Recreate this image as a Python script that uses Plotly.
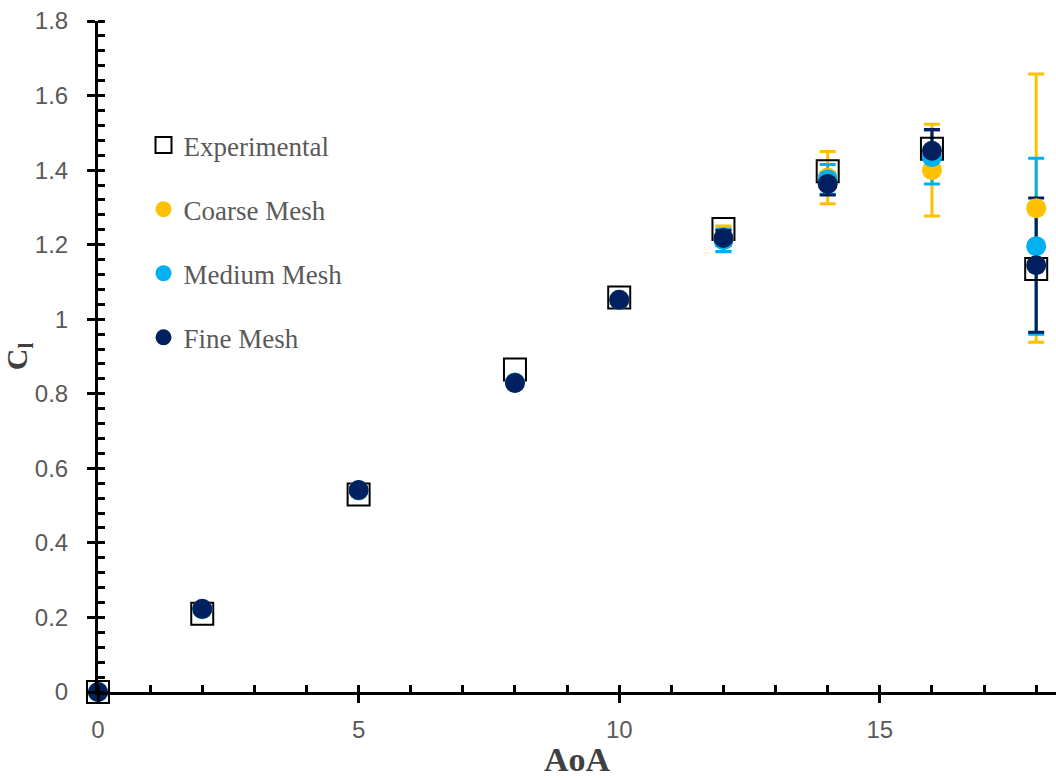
import plotly.graph_objects as go

# Lift coefficient vs angle of attack: experiment and three CFD mesh levels
aoa = [0, 2, 5, 8, 10, 12, 14, 16, 18]
cl_experimental = [0, 0.21, 0.53, 0.865, 1.058, 1.242, 1.397, 1.457, 1.135]
cl_coarse = [0, 0.222, 0.541, 0.83, 1.052, 1.215, 1.38, 1.40, 1.298]
cl_medium = [0, 0.222, 0.541, 0.83, 1.052, 1.212, 1.375, 1.435, 1.196]
cl_fine = [0, 0.223, 0.542, 0.829, 1.052, 1.218, 1.363, 1.452, 1.145]

# Error-bar half-widths for each mesh
err_coarse = [0, 0, 0, 0, 0, 0.035, 0.07, 0.123, 0.36]
err_medium = [0, 0, 0, 0, 0, 0.03, 0.04, 0.072, 0.236]
err_fine = [0, 0, 0, 0, 0, 0.02, 0.03, 0.057, 0.18]

x_ticks = [0, 5, 10, 15]
y_ticks = [0, 0.2, 0.4, 0.6, 0.8, 1.0, 1.2, 1.4, 1.6, 1.8]
y_tick_text = ["0", "0.2", "0.4", "0.6", "0.8", "1", "1.2", "1.4", "1.6", "1.8"]

COARSE = "#FFC000"
MEDIUM = "#00B0F0"
FINE = "#002060"
GREY = "#595959"
TITLE_GREY = "#404040"
SERIF = "Liberation Serif, Times New Roman, serif"

fig = go.Figure()

# Error bars first so that every marker sits on top of them
for vals, errs, col in [(cl_coarse, err_coarse, COARSE),
                        (cl_medium, err_medium, MEDIUM),
                        (cl_fine, err_fine, FINE)]:
    fig.add_trace(go.Scatter(
        x=aoa, y=vals, mode="markers",
        marker=dict(size=1, opacity=0, color=col),
        error_y=dict(type="data", array=errs, visible=True,
                     color=col, thickness=3, width=8),
        showlegend=False, hoverinfo="skip", cliponaxis=False,
    ))

fig.add_trace(go.Scatter(
    x=aoa, y=cl_experimental, mode="markers", name="Experimental",
    legendgroup="exp",
    marker=dict(symbol="square-open", size=22, color="black",
                line=dict(width=2, color="black")),
    cliponaxis=False,
))
for vals, col, name, grp in [(cl_coarse, COARSE, "Coarse Mesh", "c"),
                             (cl_medium, MEDIUM, "Medium Mesh", "m"),
                             (cl_fine, FINE, "Fine Mesh", "f")]:
    fig.add_trace(go.Scatter(
        x=aoa, y=vals, mode="markers", name=name, legendgroup=grp,
        marker=dict(symbol="circle", size=20, color=col, line=dict(width=0)),
        cliponaxis=False,
    ))

x_range = [0, 18.38]
y_range = [0, 1.8]
tick_font = dict(family="Liberation Sans, Arial, sans-serif", size=24, color=GREY)

fig.update_layout(
    width=1056, height=778,
    margin=dict(l=98, r=0, t=21, b=86, autoexpand=False),
    plot_bgcolor="white", paper_bgcolor="white",
    showlegend=True,
    legend=dict(
        x=0.0475, y=0.851, xanchor="left", yanchor="top",
        bgcolor="rgba(0,0,0,0)",
        font=dict(family=SERIF, size=27, color=GREY),
        tracegroupgap=26, itemwidth=30,
    ),
    xaxis=dict(
        range=x_range, tickvals=x_ticks, ticktext=[str(v) for v in x_ticks],
        showgrid=False, zeroline=False, automargin=False,
        showline=True, linecolor="black", linewidth=3,
        ticks="outside", ticklen=8, tickwidth=3, tickcolor="black",
        minor=dict(dtick=1, tick0=0, ticks="inside", ticklen=7,
                   tickwidth=2.5, tickcolor="black", showgrid=False),
        tickfont=tick_font, ticklabelstandoff=6,
        title=dict(text="<b>AoA</b>", standoff=19,
                   font=dict(family=SERIF, size=34, color=TITLE_GREY)),
    ),
    yaxis=dict(
        range=y_range, tickvals=y_ticks, ticktext=y_tick_text,
        showgrid=False, zeroline=False, automargin=False,
        showline=True, linecolor="black", linewidth=3,
        ticks="outside", ticklen=8, tickwidth=3, tickcolor="black",
        minor=dict(dtick=0.04, tick0=0, ticks="inside", ticklen=7,
                   tickwidth=2.5, tickcolor="black", showgrid=False),
        tickfont=tick_font, ticklabelstandoff=14,
        title=dict(text="<b>C<sub>l</sub></b>", standoff=12,
                   font=dict(family=SERIF, size=30, color=TITLE_GREY)),
    ),
    # Twin axes carrying the inner half of the major ticks (crossing ticks)
    xaxis2=dict(
        overlaying="x", anchor="y", side="bottom", range=x_range,
        tickvals=x_ticks, showticklabels=False, showgrid=False,
        zeroline=False, showline=False, automargin=False,
        ticks="inside", ticklen=8, tickwidth=3, tickcolor="black",
    ),
    yaxis2=dict(
        overlaying="y", anchor="x", side="left", range=y_range,
        tickvals=y_ticks, showticklabels=False, showgrid=False,
        zeroline=False, showline=False, automargin=False,
        ticks="inside", ticklen=8, tickwidth=3, tickcolor="black",
    ),
)

fig.write_html("out.html")
